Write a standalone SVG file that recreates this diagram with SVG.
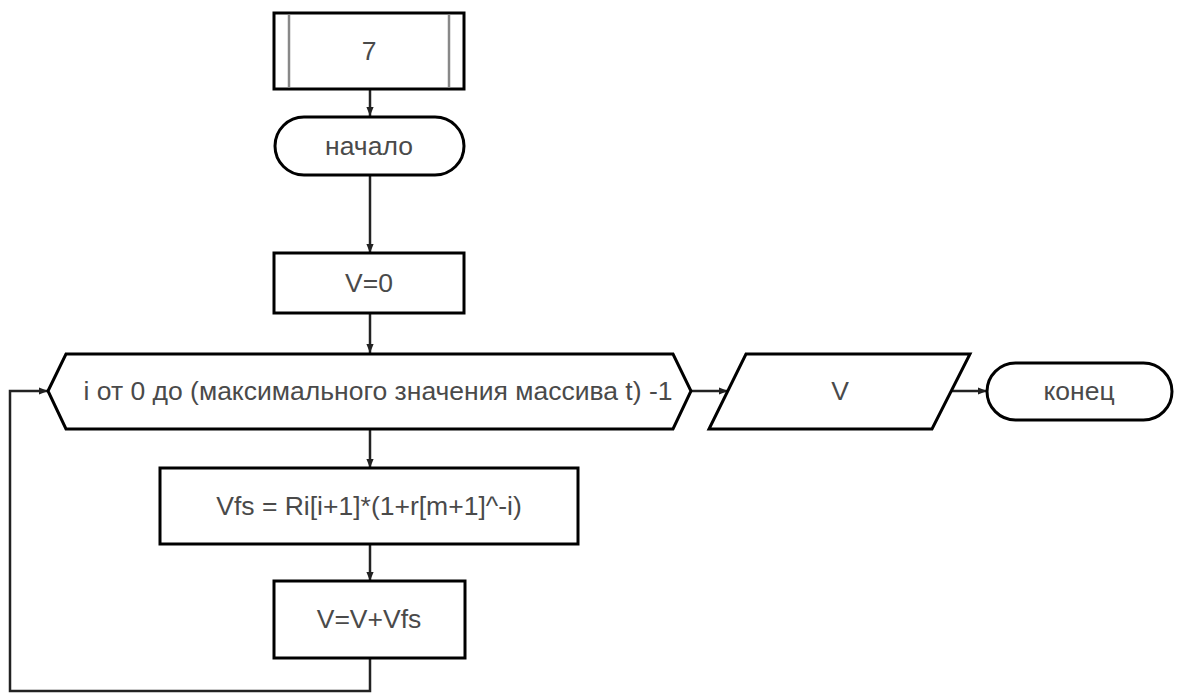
<svg xmlns="http://www.w3.org/2000/svg" width="1192" height="693" viewBox="0 0 1192 693">
<defs>
<marker id="arr" viewBox="0 0 10 10" refX="10" refY="5" markerWidth="9" markerHeight="9" markerUnits="userSpaceOnUse" orient="auto">
<path d="M0,1 L10,5 L0,9 Z" fill="#222"/>
</marker>
<style>
.shape{fill:#fff;stroke:#000;stroke-width:3}
.inner{stroke:#888;stroke-width:2.5;fill:none}
.lbl{font-family:"Liberation Sans",Arial,sans-serif;font-size:26.5px;fill:#4a4a4a;text-anchor:middle;dominant-baseline:central}
.conn{fill:none;stroke:#222;stroke-width:2.5;marker-end:url(#arr)}
</style>
</defs>
<rect width="1192" height="693" fill="#fff"/>
<g id="connectors">
<path class="conn" d="M370,89 L370,116"/>
<path class="conn" d="M370,175 L370,253"/>
<path class="conn" d="M370,313 L370,353"/>
<path class="conn" d="M370,429 L370,468"/>
<path class="conn" d="M370,544 L370,581"/>
<path class="conn" d="M370,658 L370,691 L10,691 L10,391 L48,391"/>
<path class="conn" d="M691,391 L728,391"/>
<path class="conn" d="M951,391 L987,391"/>
</g>
<g id="sub7">
<rect class="shape" x="274" y="13" width="190" height="76"/>
<line class="inner" x1="289" y1="14.5" x2="289" y2="87.5"/>
<line class="inner" x1="449" y1="14.5" x2="449" y2="87.5"/>
<text class="lbl" x="369" y="51">7</text>
</g>
<g id="start">
<rect class="shape" x="275" y="117" width="189" height="58" rx="29" ry="29"/>
<text class="lbl" x="369" y="146">начало</text>
</g>
<g id="init">
<rect class="shape" x="274" y="253" width="190" height="60"/>
<text class="lbl" x="369" y="283">V=0</text>
</g>
<g id="loop">
<polygon class="shape" points="48,391 66,354 673,354 691,391 673,429 66,429"/>
<text class="lbl" x="378" y="391">i от 0 до (максимального значения массива t) -1</text>
</g>
<g id="calc">
<rect class="shape" x="160" y="468" width="418" height="76"/>
<text class="lbl" x="369" y="506">Vfs = Ri[i+1]*(1+r[m+1]^-i)</text>
</g>
<g id="accum">
<rect class="shape" x="274" y="581" width="191" height="77"/>
<text class="lbl" x="369" y="619">V=V+Vfs</text>
</g>
<g id="output">
<polygon class="shape" points="746,354 970,354 932,429 709,429"/>
<text class="lbl" x="840" y="391">V</text>
</g>
<g id="end">
<rect class="shape" x="987" y="363" width="185" height="57" rx="28.5" ry="28.5"/>
<text class="lbl" x="1079" y="391">конец</text>
</g>
</svg>
